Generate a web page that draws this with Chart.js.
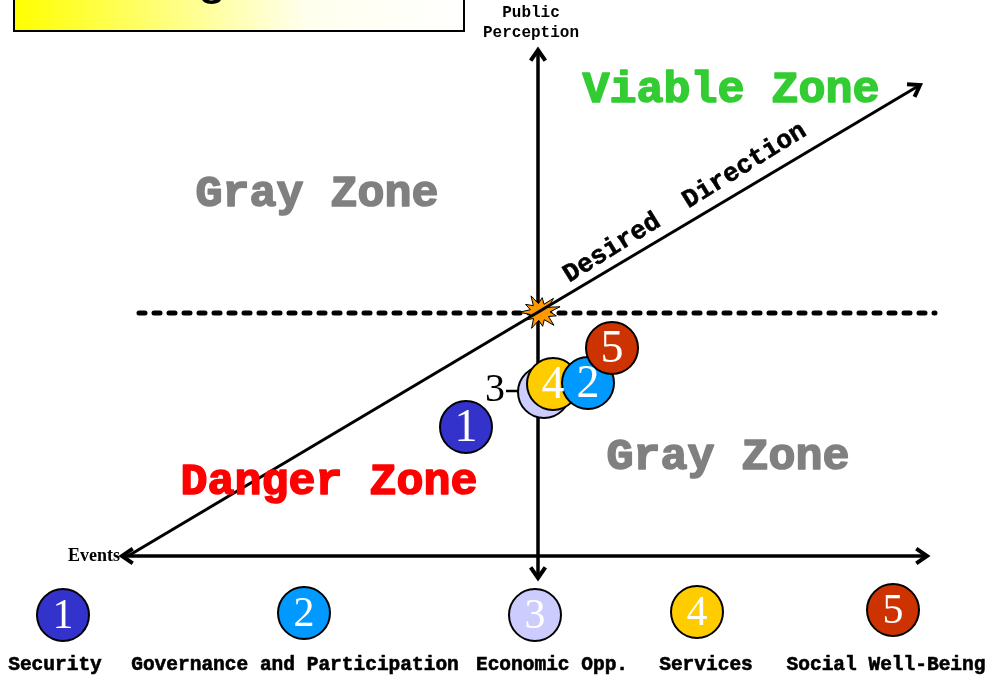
<!DOCTYPE html>
<html>
<head>
<meta charset="utf-8">
<script src="https://cdn.jsdelivr.net/npm/chart.js@4"></script>
<style>
  body { margin: 0; background: #ffffff; }
  #wrap { width: 987px; height: 682px; position: relative; }
</style>
</head>
<body>
<div id="wrap"><canvas id="zones"></canvas></div>
<script>
// ####################### DATA #######################

// sector names, in legend order
var sectors = ['Security', 'Governance and Participation', 'Economic Opp.', 'Services', 'Social Well-Being'];
var sectorNumbers = ['1', '2', '3', '4', '5'];
var sectorColors = ['#3333cc', '#0099ff', '#ccccff', '#ffcc00', '#cc3300'];

// rating of each sector: events (x) and public perception (y), origin = crossing of the axes
var eventsScore = [-7.2, 5.0, 0.6, 1.5, 7.4];
var perceptionScore = [-11.4, -7.0, -7.9, -7.1, -3.5];

// drawing order of the rated bubbles (later ones sit on top)
var stackOrder = [0, 2, 3, 1, 4];

// legend row under the chart
var legendX = [-47.5, -23.4, -0.3, 15.9, 35.5];
var legendY = [-30.2, -30.0, -30.2, -29.9, -29.7];
var legendTextX = [-48.3, -24.3, 1.4, 16.8, 34.8];
var legendTextY = -35.2;

// axes and guide lines, in chart units
var eventsAxis = [{x: -41.6, y: -24.3}, {x: 38.9, y: -24.3}];
var perceptionAxis = [{x: 0, y: 26.3}, {x: 0, y: -26.5}];
var desiredDirection = [{x: -41.0, y: -24.3}, {x: 38.2, y: 22.8}];
var thresholdLine = [{x: -39.9, y: 0}, {x: 39.7, y: 0}];

// zone labels
var zoneLabels = [
    {text: 'Viable Zone', x: 19.3, y: 22.2, color: '#33cc33'},
    {text: 'Gray Zone', x: -22.1, y: 11.8, color: '#808080'},
    {text: 'Gray Zone', x: 19.0, y: -14.5, color: '#808080'},
    {text: 'Danger Zone', x: -20.9, y: -17.0, color: '#ff0000'}
];

// ####################### HELPERS #######################

var monoBold = 'bold {size}px "Liberation Mono", "DejaVu Sans Mono", monospace';

function font(size) {
    return monoBold.replace('{size}', size);
}

function px(chart, x, y) {
    return {x: chart.scales.x.getPixelForValue(x), y: chart.scales.y.getPixelForValue(y)};
}

// bold text: fill plus a thin stroke in the same colour
function heavyText(ctx, text, x, y, color, weight) {
    ctx.fillStyle = color;
    ctx.strokeStyle = color;
    ctx.lineWidth = weight;
    ctx.lineJoin = 'round';
    ctx.fillText(text, x, y);
    ctx.strokeText(text, x, y);
}

function arrowHead(ctx, from, to, len) {
    var a = Math.atan2(to.y - from.y, to.x - from.x);
    ctx.beginPath();
    ctx.moveTo(to.x - len * Math.cos(a - 0.6), to.y - len * Math.sin(a - 0.6));
    ctx.lineTo(to.x, to.y);
    ctx.lineTo(to.x - len * Math.cos(a + 0.6), to.y - len * Math.sin(a + 0.6));
    ctx.stroke();
}

function starBurst(ctx, cx, cy) {
    var spikes = 11;
    ctx.beginPath();
    for (var i = 0; i < spikes * 2; i++) {
        var r = (i % 2 == 0) ? (i % 4 == 0 ? 21 : 17) : 10;
        var a = i * Math.PI / spikes - 0.3;
        var x = cx + r * Math.cos(a);
        var y = cy + r * Math.sin(a) * 0.85;
        if (i == 0) ctx.moveTo(x, y); else ctx.lineTo(x, y);
    }
    ctx.closePath();
    ctx.fillStyle = '#ff9900';
    ctx.fill();
    ctx.lineWidth = 1;
    ctx.strokeStyle = '#000000';
    ctx.stroke();
}

// ####################### DATASETS #######################

var ratedPoints = stackOrder.map(function (i) {
    return {x: eventsScore[i], y: perceptionScore[i]};
});
var ratedColors = stackOrder.map(function (i) { return sectorColors[i]; });

var legendPoints = legendX.map(function (x, i) {
    return {x: x, y: legendY[i]};
});

function guide(data, width, order, dash) {
    return {
        type: 'line', data: data, showLine: true, pointRadius: 0,
        borderColor: '#000000', borderWidth: width, borderDash: dash || [],
        borderCapStyle: dash ? 'round' : 'butt', order: order, clip: false
    };
}

var datasets = [
    {type: 'scatter', data: ratedPoints, backgroundColor: ratedColors, borderColor: '#000000',
        borderWidth: 2, pointRadius: 26, pointHoverRadius: 26, order: 1, clip: false},
    {type: 'scatter', data: legendPoints, backgroundColor: sectorColors, borderColor: '#000000',
        borderWidth: 2, pointRadius: 26, pointHoverRadius: 26, order: 1, clip: false},
    guide(desiredDirection, 3, 4),
    guide(eventsAxis, 3.5, 5),
    guide(perceptionAxis, 3.5, 5),
    guide(thresholdLine, 5, 6, [6, 9])
];

// ####################### DRAWING PLUGIN #######################

var decorations = {
    id: 'decorations',

    beforeDraw: function (chart) {
        // title box cut by the top of the slide
        var ctx = chart.ctx;
        var g = ctx.createLinearGradient(14, 0, 464, 0);
        g.addColorStop(0, '#ffff00');
        g.addColorStop(0.65, '#ffffee');
        g.addColorStop(1, '#ffffff');
        ctx.save();
        ctx.fillStyle = g;
        ctx.fillRect(14, -5, 450, 36);
        ctx.lineWidth = 2;
        ctx.strokeStyle = '#000000';
        ctx.strokeRect(14, -5, 450, 36);
        ctx.fillStyle = '#000000';
        ctx.font = '52px "Liberation Sans", sans-serif';
        ctx.textAlign = 'center';
        ctx.textBaseline = 'alphabetic';
        ctx.fillText('g', 212, -7);
        ctx.restore();
    },

    beforeDatasetDraw: function (chart, args) {
        // burst under the desired direction line
        if (args.index == 2) {
            var c = px(chart, 0, 0);
            starBurst(chart.ctx, c.x + 2, c.y - 1);
        }
    },

    afterDatasetsDraw: function (chart) {
        var ctx = chart.ctx;
        ctx.save();
        ctx.strokeStyle = '#000000';
        ctx.lineWidth = 4;
        ctx.lineJoin = 'miter';

        // arrow heads
        var lines = [eventsAxis, perceptionAxis, desiredDirection];
        lines.forEach(function (l) {
            var a = px(chart, l[0].x, l[0].y), b = px(chart, l[1].x, l[1].y);
            arrowHead(ctx, a, b, 13);
            if (l !== desiredDirection) arrowHead(ctx, b, a, 13);
        });

        // numbers in the rated bubbles
        ctx.fillStyle = '#ffffff';
        ctx.textAlign = 'center';
        ctx.textBaseline = 'middle';
        ctx.font = '46px "Liberation Serif", serif';
        var rated = chart.getDatasetMeta(0).data;
        rated.forEach(function (el, k) {
            if (stackOrder[k] == 2) return; // 3 is hidden behind 4, labelled outside
            ctx.fillText(sectorNumbers[stackOrder[k]], el.x, el.y + 2);
        });

        // callout for bubble 3
        var three = rated[stackOrder.indexOf(2)];
        ctx.fillStyle = '#000000';
        ctx.strokeStyle = '#000000';
        ctx.font = '40px "Liberation Serif", serif';
        ctx.fillText('3', three.x - 49, three.y - 2);
        ctx.lineWidth = 2.5;
        ctx.beginPath();
        ctx.moveTo(three.x - 38, three.y - 1);
        ctx.lineTo(three.x - 25, three.y - 1);
        ctx.stroke();

        // legend numbers and names
        ctx.fillStyle = '#ffffff';
        ctx.font = '42px "Liberation Serif", serif';
        chart.getDatasetMeta(1).data.forEach(function (el, i) {
            ctx.fillText(sectorNumbers[i], el.x, el.y + 2);
        });
        ctx.font = font(19.5);
        sectors.forEach(function (name, i) {
            var p = px(chart, legendTextX[i], legendTextY);
            heavyText(ctx, name, p.x, p.y, '#000000', 0.6);
        });

        // zone labels
        ctx.font = font(45);
        zoneLabels.forEach(function (z) {
            var p = px(chart, z.x, z.y);
            heavyText(ctx, z.text, p.x, p.y, z.color, 1.6);
        });

        // axis titles
        ctx.fillStyle = '#000000';
        ctx.font = font(16);
        var top = px(chart, perceptionAxis[0].x, perceptionAxis[0].y);
        ctx.fillText('Public', top.x - 7, 13);
        ctx.fillText('Perception', top.x - 7, 33);

        ctx.font = 'bold 18px "Liberation Serif", serif';
        ctx.textAlign = 'right';
        var left = px(chart, eventsAxis[0].x, eventsAxis[0].y);
        ctx.fillText('Events', left.x - 2, left.y);

        // desired direction caption along the diagonal
        var d0 = px(chart, desiredDirection[0].x, desiredDirection[0].y);
        var d1 = px(chart, desiredDirection[1].x, desiredDirection[1].y);
        var ang = Math.atan2(d1.y - d0.y, d1.x - d0.x);
        var mid = px(chart, 14.7, 11.0);
        ctx.translate(mid.x, mid.y);
        ctx.rotate(ang - 0.02);
        ctx.textAlign = 'center';
        ctx.font = font(26);
        heavyText(ctx, 'Desired  Direction', 0, 0, '#000000', 0.6);
        ctx.restore();
    }
};

// ####################### CHART #######################

var chart = new Chart(document.getElementById('zones'), {
    type: 'scatter',
    data: {datasets: datasets},
    options: {
        responsive: true,
        maintainAspectRatio: false,
        animation: false,
        events: [],
        layout: {padding: 0, autoPadding: false},
        plugins: {legend: {display: false}, tooltip: {enabled: false}},
        scales: {
            x: {type: 'linear', min: -53.8, max: 44.9, display: false},
            y: {type: 'linear', min: -36.9, max: 31.3, display: false}
        }
    },
    plugins: [decorations]
});
</script>
</body>
</html>
